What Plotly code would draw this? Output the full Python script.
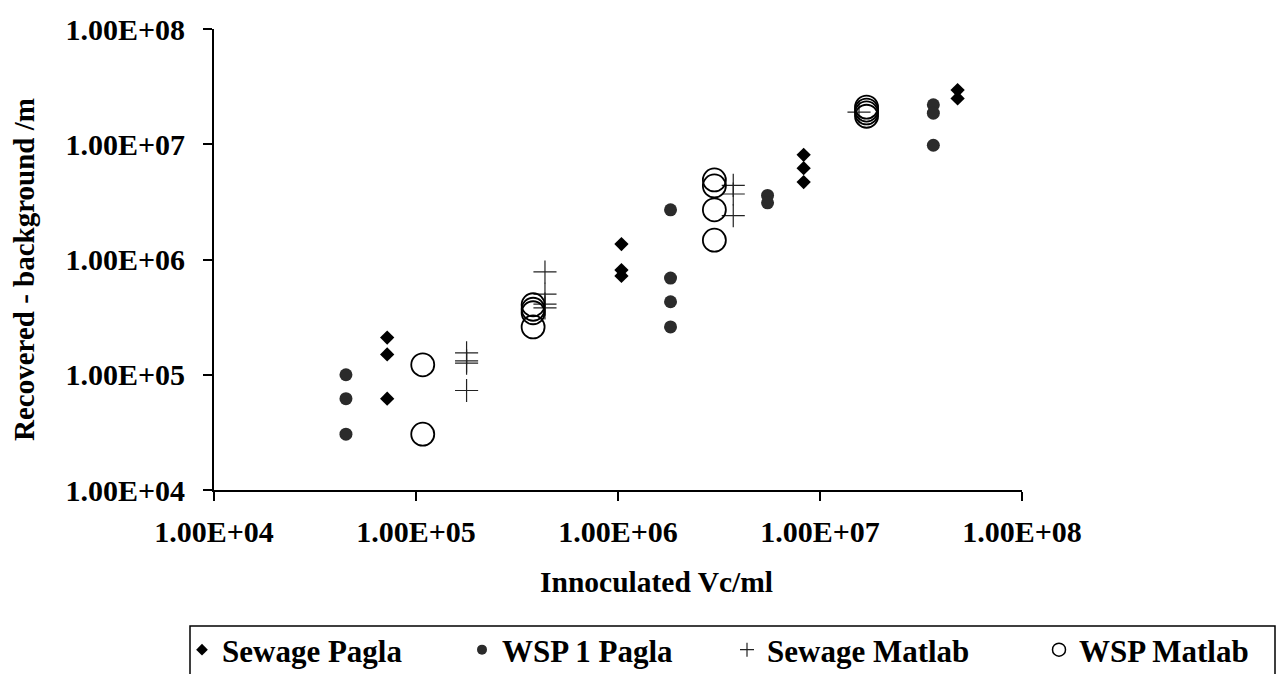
import plotly.graph_objects as go

# Inoculated concentration (Vc/ml) and recovered-minus-background counts per series
sewage_pagla_x = [7.2e4, 7.2e4, 7.2e4, 1.04e6, 1.04e6, 1.04e6, 8.3e6, 8.3e6, 8.3e6, 4.8e7, 4.8e7]
sewage_pagla_y = [2.1e5, 1.5e5, 6.2e4, 1.36e6, 8.1e5, 7.2e5, 8.1e6, 6.2e6, 4.7e6, 2.95e7, 2.5e7]

wsp1_pagla_x = [4.5e4, 4.5e4, 4.5e4, 1.82e6, 1.82e6, 1.82e6, 1.82e6, 5.5e6, 5.5e6, 3.64e7, 3.64e7, 3.64e7]
wsp1_pagla_y = [1.0e5, 6.2e4, 3.05e4, 2.7e6, 6.9e5, 4.3e5, 2.6e5, 3.6e6, 3.1e6, 2.2e7, 1.86e7, 9.8e6]

sewage_matlab_x = [1.78e5, 1.78e5, 1.78e5, 1.78e5, 4.35e5, 4.35e5, 4.35e5, 4.35e5, 3.72e6, 3.72e6, 3.72e6, 1.56e7]
sewage_matlab_y = [1.55e5, 1.32e5, 1.26e5, 7.3e4, 7.8e5, 5.0e5, 4.1e5, 3.8e5, 4.4e6, 3.7e6, 2.4e6, 1.9e7]

wsp_matlab_x = [1.08e5, 1.08e5, 3.8e5, 3.8e5, 3.8e5, 3.8e5, 3.0e6, 3.0e6, 3.0e6, 3.0e6, 1.7e7, 1.7e7, 1.7e7, 1.7e7]
wsp_matlab_y = [1.22e5, 3.05e4, 4.05e5, 3.7e5, 3.45e5, 2.6e5, 4.9e6, 4.35e6, 2.7e6, 1.47e6, 2.1e7, 1.98e7, 1.87e7, 1.75e7]

series_names = ["Sewage Pagla", "WSP 1 Pagla", "Sewage Matlab", "WSP Matlab"]

tick_vals = [1e4, 1e5, 1e6, 1e7, 1e8]
tick_text = ["1.00E+04", "1.00E+05", "1.00E+06", "1.00E+07", "1.00E+08"]

FONT = "Liberation Serif, Times New Roman, serif"
W, H = 1283, 674
L, R, T, B = 214, 1022, 29, 490  # plot area in pixels


def px_x(p):
    return (p - L) / (R - L)


def px_y(p):
    return (B - p) / (B - T)


styles = [
    dict(symbol="diamond", size=11, color="black", line=dict(width=0)),
    dict(symbol="circle", size=13, color="#2b2b2b", line=dict(width=0)),
    dict(symbol="cross-thin-open", size=16.5, color="#222", line=dict(width=1.2, color="#222")),
    dict(symbol="circle-open", size=23, color="black", line=dict(width=1.8, color="black")),
]
legend_styles = [
    dict(symbol="diamond", size=9, color="black", line=dict(width=0)),
    dict(symbol="circle", size=10, color="#2b2b2b", line=dict(width=0)),
    dict(symbol="cross-thin-open", size=10, color="#222", line=dict(width=1.2, color="#222")),
    dict(symbol="circle-open", size=13, color="black", line=dict(width=1.5, color="black")),
]
# one single-entry legend per series so each key sits where it belongs in the row
legend_ids = ["legend", "legend2", "legend3", "legend4"]
legend_left_px = [182, 462, 727, 1039]

data = [
    (sewage_pagla_x, sewage_pagla_y),
    (wsp1_pagla_x, wsp1_pagla_y),
    (sewage_matlab_x, sewage_matlab_y),
    (wsp_matlab_x, wsp_matlab_y),
]

fig = go.Figure()
for name, (xs, ys), st in zip(series_names, data, styles):
    fig.add_trace(go.Scatter(x=xs, y=ys, mode="markers", name=name, marker=st,
                             legendgroup=name, showlegend=False))
for name, st, lid in zip(series_names, legend_styles, legend_ids):
    fig.add_trace(go.Scatter(x=[None], y=[None], mode="markers", name=name, marker=st,
                             legendgroup=name, showlegend=True, legend=lid))

axis_common = dict(
    type="log",
    range=[4, 8],
    tickvals=tick_vals,
    ticktext=tick_text,
    showgrid=False,
    zeroline=False,
    showline=True,
    linecolor="black",
    linewidth=2,
    ticks="outside",
    ticklen=9,
    tickwidth=1.5,
    tickcolor="black",
    tickfont=dict(family=FONT, size=30, color="black", weight="bold"),
    mirror=False,
)

fig.update_xaxes(**axis_common, ticklabelstandoff=5)
fig.update_yaxes(**axis_common, ticklabelstandoff=12)

fig.add_annotation(text="Innoculated Vc/ml", xref="paper", yref="paper",
                   x=px_x(656), y=px_y(582), xanchor="center", yanchor="middle",
                   showarrow=False, font=dict(family=FONT, size=29.5, color="black", weight="bold"))
fig.add_annotation(text="Recovered - background /m", xref="paper", yref="paper",
                   x=px_x(24), y=px_y(270), xanchor="center", yanchor="middle", textangle=-90,
                   showarrow=False, font=dict(family=FONT, size=29, color="black", weight="bold"))

# legend frame
fig.add_shape(type="rect", xref="paper", yref="paper",
              x0=px_x(190), x1=px_x(1275), y0=px_y(626), y1=px_y(700),
              line=dict(color="black", width=1.5), fillcolor="rgba(0,0,0,0)")

legend_layouts = {}
for lid, lx in zip(legend_ids, legend_left_px):
    legend_layouts[lid] = dict(
        orientation="h", x=px_x(lx), xanchor="left", y=px_y(650), yanchor="middle",
        bgcolor="rgba(0,0,0,0)", borderwidth=0,
        font=dict(family=FONT, size=31, color="black", weight="bold"),
    )

fig.update_layout(
    width=W, height=H,
    margin=dict(l=L, r=W - R, t=T, b=H - B, autoexpand=False),
    plot_bgcolor="white", paper_bgcolor="white",
    **legend_layouts,
)

fig.write_html("out.html")
